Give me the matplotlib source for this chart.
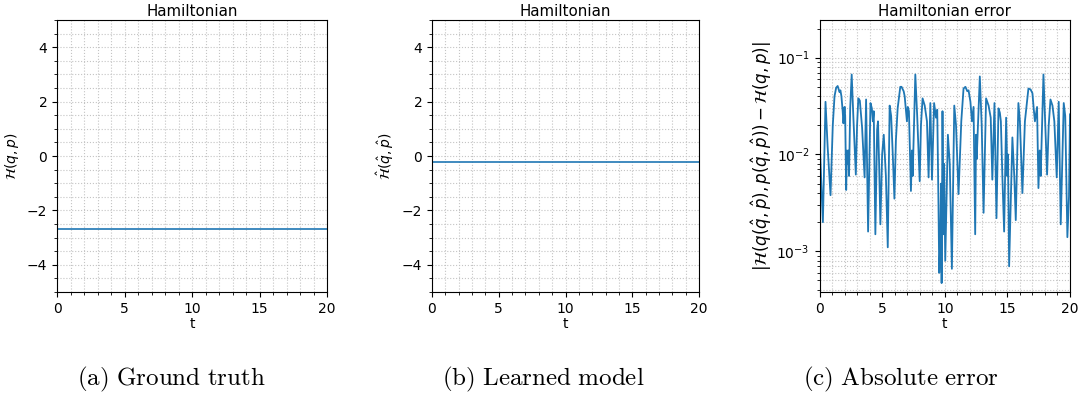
import numpy as np
import matplotlib
matplotlib.use("Agg")
import matplotlib.pyplot as plt

# Hamiltonian values (constant over the trajectory)
t_span = [0.0, 20.0]
H_true = -2.70
H_learned = -0.21

# absolute Hamiltonian error |H(q(qh,ph), p(qh,ph)) - H(q,p)| along the trajectory
t_err = [0.00, 0.27, 0.48, 0.65, 0.88, 1.00, 1.06, 1.20, 1.33, 1.45, 1.60, 1.67, 1.75, 1.85,
         1.91, 2.00, 2.05, 2.13, 2.20, 2.25, 2.32, 2.36, 2.45, 2.57, 2.70, 2.90, 3.00, 3.10,
         3.22, 3.40, 3.60, 3.72, 3.88, 4.07, 4.18, 4.26, 4.33, 4.46, 4.60, 4.67, 4.76, 4.86,
         5.00, 5.13, 5.30, 5.45, 5.60, 5.72, 5.85, 5.98, 6.10, 6.24, 6.45, 6.55, 6.72, 6.80,
         6.88, 6.98, 7.05, 7.14, 7.30, 7.38, 7.44, 7.65, 7.80, 8.00, 8.10, 8.23, 8.40, 8.58,
         8.71, 8.85, 8.98, 9.15, 9.30, 9.40, 9.50, 9.56, 9.64, 9.70, 9.75, 9.82, 9.90, 9.95,
         10.04, 10.25, 10.40, 10.57, 10.76, 10.90, 11.10, 11.32, 11.50, 11.65, 11.80, 11.90,
         12.05, 12.17, 12.30, 12.43, 12.50, 12.55, 12.80, 12.95, 13.10, 13.30, 13.50, 13.67,
         13.80, 13.97, 14.13, 14.29, 14.40, 14.48, 14.60, 14.74, 14.90, 15.00, 15.05, 15.14,
         15.40, 15.55, 15.67, 15.88, 16.00, 16.20, 16.40, 16.68, 16.85, 17.00, 17.10, 17.20,
         17.37, 17.48, 17.58, 17.66, 17.88, 18.00, 18.17, 18.30, 18.44, 18.60, 18.75, 18.94,
         19.10, 19.26, 19.50, 19.62, 19.79, 19.92, 20.00]
H_err = [0.015, 0.002, 0.035, 0.012, 0.0038, 0.012, 0.020, 0.040, 0.049, 0.051, 0.044, 0.046,
         0.040, 0.028, 0.021, 0.031, 0.025, 0.0043, 0.011, 0.008, 0.011, 0.006, 0.030, 0.067,
         0.025, 0.0062, 0.020, 0.038, 0.036, 0.019, 0.0058, 0.037, 0.0016, 0.034, 0.030, 0.022,
         0.028, 0.0015, 0.018, 0.022, 0.008, 0.0019, 0.010, 0.016, 0.006, 0.0011, 0.032, 0.025,
         0.010, 0.0035, 0.014, 0.030, 0.050, 0.050, 0.045, 0.040, 0.031, 0.022, 0.031, 0.028,
         0.0042, 0.011, 0.006, 0.067, 0.025, 0.0053, 0.020, 0.038, 0.032, 0.022, 0.0058, 0.034,
         0.0055, 0.034, 0.024, 0.029, 0.003, 0.0006, 0.0012, 0.005, 0.00047, 0.028, 0.0015,
         0.008, 0.0008, 0.016, 0.008, 0.00066, 0.032, 0.020, 0.0039, 0.022, 0.048, 0.050, 0.045,
         0.046, 0.035, 0.022, 0.031, 0.0015, 0.016, 0.009, 0.064, 0.020, 0.0025, 0.038, 0.032,
         0.024, 0.0055, 0.034, 0.0022, 0.030, 0.027, 0.022, 0.006, 0.0016, 0.024, 0.006, 0.010,
         0.0007, 0.015, 0.006, 0.0021, 0.034, 0.022, 0.004, 0.022, 0.048, 0.047, 0.043, 0.030,
         0.022, 0.031, 0.0045, 0.011, 0.006, 0.067, 0.025, 0.0062, 0.020, 0.037, 0.032, 0.022,
         0.0058, 0.035, 0.0019, 0.034, 0.025, 0.0014, 0.0037, 0.026]

captions = [r'$\mathrm{(a)\ Ground\ truth}$',
            r'$\mathrm{(b)\ Learned\ model}$',
            r'$\mathrm{(c)\ Absolute\ error}$']

W, H = 1083, 398
fig = plt.figure(figsize=(W / 100, H / 100), dpi=100)

def axes_px(left, right, top, bottom):
    return fig.add_axes([left / W, 1 - bottom / H, (right - left) / W, (bottom - top) / H])

ax1 = axes_px(57, 327, 20, 292)
ax2 = axes_px(432, 699, 20, 292)
ax3 = axes_px(819.5, 1070, 20, 292)

def style(ax):
    ax.minorticks_on()
    ax.grid(which='both', linestyle=':', color='#c4c4c4', linewidth=0.8)
    ax.set_xlim(0, 20)
    ax.set_xticks([0, 5, 10, 15, 20])
    ax.set_xlabel('t', labelpad=1)

ax1.plot(t_span, [H_true, H_true], color='C0', lw=1.2)
ax1.set_ylim(-5, 5)
ax1.set_title('Hamiltonian', fontsize=10.8, pad=3)
ax1.set_ylabel(r'$\mathcal{H}(q,p)$')
style(ax1)

ax2.plot(t_span, [H_learned, H_learned], color='C0', lw=1.2)
ax2.set_ylim(-5, 5)
ax2.set_title('Hamiltonian', fontsize=10.8, pad=3)
ax2.set_ylabel(r'$\hat{\mathcal{H}}(\hat{q},\hat{p})$')
style(ax2)

ax3.semilogy(t_err, H_err, color='C0', lw=1.3)
ax3.set_ylim(3.8e-4, 0.245)
ax3.set_title('Hamiltonian error', fontsize=10.8, pad=3)
ax3.set_ylabel(r'$|\mathcal{H}(q(\hat{q},\hat{p}),p(\hat{q},\hat{p}))-\mathcal{H}(q,p)|$',
               fontsize=12, labelpad=2)
style(ax3)

for x, cap in zip([171.5, 543, 901], captions):
    fig.text(x / W, 1 - 379 / H, cap, math_fontfamily='cm', fontsize=18,
             ha='center', va='center')

fig.savefig('out.png', dpi=100)
